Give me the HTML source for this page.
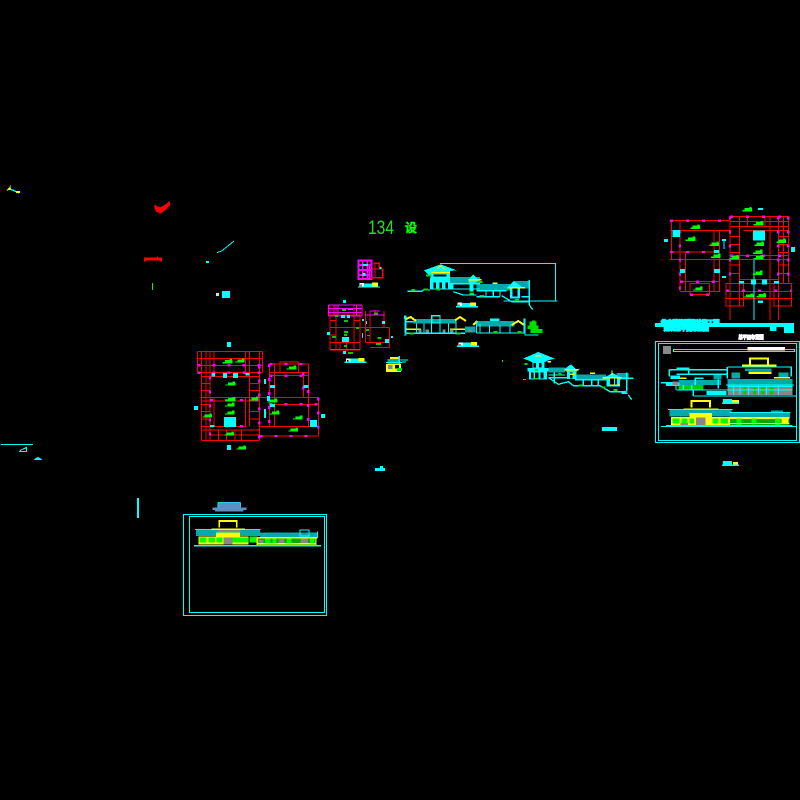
<!DOCTYPE html>
<html><head><meta charset="utf-8"><title>CAD</title>
<style>html,body{margin:0;padding:0;background:#000;width:800px;height:800px;overflow:hidden}svg{display:block}</style></head>
<body>
<svg width="800" height="800" viewBox="0 0 800 800" xmlns="http://www.w3.org/2000/svg" shape-rendering="crispEdges">
<rect width="800" height="800" fill="#000"/>
<defs>
<g id="b"><rect x="0" y="2" width="22" height="10" fill="#0f0"/><rect x="-7" y="8" width="9" height="4" fill="#0f0"/><rect x="14" y="-1" width="7" height="4" fill="#0f0"/></g>
<g id="cap"><rect x="0" y="1" width="14" height="10" fill="#fff"/><rect x="3" y="6" width="4" height="5" fill="#000"/><rect x="14" y="2" width="24" height="12" fill="#0ff"/><rect x="38" y="0" width="18" height="12" fill="#ff0"/><rect x="-4" y="11" width="66" height="4" fill="#0ff"/></g>
</defs>

<!-- stray items top left : zoom 8 -->
<g transform="translate(0 175) scale(.3333)">
<path d="M18 47L28 38L31 30L33 44Z" fill="#ff0"/><path d="M30 42L58 54" stroke="#0ff" stroke-width="4" fill="none"/><rect x="48" y="48" width="12" height="6" fill="#ff0"/>
<path d="M465 87L472 94L482 97L497 88L509 78L511 90L498 104L482 116L468 110L463 98Z" fill="#f00"/>
<rect x="432" y="248" width="54" height="9" fill="#f00"/><rect x="432" y="255" width="6" height="4" fill="#f00"/><rect x="480" y="255" width="6" height="4" fill="#f00"/><rect x="471" y="245" width="3" height="4" fill="#f00"/>
<rect x="456" y="324" width="3" height="21" fill="#0f0"/>
<path d="M651 233L665 228L685 212L702 198" stroke="#0ff" stroke-width="3" fill="none"/>
<rect x="618" y="258" width="9" height="6" fill="#0ff"/>
<rect x="648" y="354" width="9" height="9" fill="#ddd"/><rect x="666" y="348" width="24" height="21" fill="#0ff"/>
</g>

<!-- bottom left strays : zoom 10 -->
<g transform="translate(0 430) scale(.3333)" fill="#0ff">
<rect x="3" y="42" width="96" height="3"/>
<path d="M57 66L60 60L72 54L78 51L81 51L81 66Z M63 63H78V56L66 60Z" fill-rule="evenodd"/>
<path d="M102 90L108 84L114 81L120 84L126 90Z"/>
<rect x="411" y="204" width="6" height="60"/>
</g>
<rect x="375" y="468" width="10" height="3" fill="#0ff"/><rect x="380" y="466" width="3" height="3" fill="#0ff"/>
<rect x="602" y="427" width="15" height="4" fill="#0ff"/>

<!-- big plan : zoom 1 -->
<g transform="translate(190 340) scale(.3333)">
<path fill="none" stroke="#f00" stroke-width="3.300" d="M22 34H218M22 55H218M22 76H218M22 98H218M34 110H208M34 130H60M34 151H60M178 130H208M178 151H208M34 172H385M34 183H208M34 193H60M238 193H385M34 215H60M178 215H208M34 237H60M178 237H208M34 259H170M34 270H208M60 285H208M34 301H208M205 259H385M208 288H385M22 34V98M34 34V301M48 34V301M60 34V301M72 34V98M72 172V259M166 34V98M166 172V259M178 34V259M208 34V301M218 34V98M85 270V301M110 270V301M135 270V301M155 270V301M238 72V258M253 72V258M270 65V98M325 65V98M340 98V172M355 72V258M385 172V288M238 72H355M270 66H325M238 98H355M238 107H355"/>
<path fill="none" stroke="#f0f" stroke-width="7" stroke-dasharray="9 36" d="M22 76H218M22 98H218M60 181H208M238 72H355M238 107H355M60 259H170M208 288H385M238 193H385"/>
<path fill="none" stroke="#f0f" stroke-width="7" stroke-dasharray="9 33" d="M60 110V300M208 76V300M238 72V258M340 98V172M355 150V258M385 172V288"/>
<g fill="#0ff"><rect x="65" y="99" width="10" height="10"/><rect x="99" y="99" width="12" height="15"/><rect x="129" y="99" width="15" height="15"/><rect x="166" y="99" width="12" height="8"/><rect x="102" y="231" width="36" height="30"/><rect x="240" y="135" width="15" height="9"/><rect x="340" y="135" width="16" height="9"/><rect x="360" y="240" width="21" height="21"/><rect x="222" y="117" width="6" height="15"/><rect x="231" y="168" width="9" height="15"/><rect x="222" y="207" width="6" height="27"/><rect x="240" y="192" width="15" height="9"/><rect x="111" y="6" width="12" height="15"/><rect x="12" y="198" width="12" height="12"/><rect x="393" y="222" width="12" height="12"/><rect x="111" y="315" width="12" height="15"/><rect x="60" y="255" width="14" height="6"/></g>
<use href="#b" x="105" y="58"/><use href="#b" x="142" y="56"/><use href="#b" x="297" y="77"/><use href="#b" x="114" y="125"/><use href="#b" x="184" y="170"/><use href="#b" x="114" y="172"/><use href="#b" x="112" y="188"/><use href="#b" x="240" y="176"/><use href="#b" x="44" y="221"/><use href="#b" x="112" y="212"/><use href="#b" x="246" y="212"/><use href="#b" x="316" y="227"/><use href="#b" x="302" y="263"/><use href="#b" x="110" y="275"/><use href="#b" x="146" y="317"/>
</g>

<!-- right top plan : zoom 2 -->
<g transform="translate(650 200) scale(.3333)">
<path fill="none" stroke="#f00" stroke-width="3.300" d="M60 62H240M60 91H240M280 91H415M60 156H195M60 178H415M240 50H415M240 65H415M240 80H415M240 110H270M240 133H270M240 157H270M240 167H415M385 110H415M385 133H415M385 157H415M240 195H270M385 195H415M240 220H270M385 220H415M268 238H385M228 250H425M90 274H210M228 274H425M228 295H425M228 318H280M372 318H425M90 245H210M120 250H180M120 283H180M64 62V178M90 62V275M106 155V275M192 91V275M208 91V275M120 250V285M178 250V285M240 50V360M268 50V320M292 50V80M345 50V80M360 50V360M385 50V360M400 50V250M415 50V250M228 250V320M280 250V320M372 250V320M425 250V320"/>
<path fill="none" stroke="#f0f" stroke-width="7" stroke-dasharray="9 39" d="M60 62H240M60 156H195M240 50H415M240 167H415M228 272H425M90 245H210M120 284H180"/>
<path fill="none" stroke="#f0f" stroke-width="7" stroke-dasharray="9 33" d="M90 91V275M240 50V250M385 50V250M415 50V250"/>
<g fill="#0ff"><rect x="68" y="90" width="22" height="21"/><rect x="309" y="92" width="36" height="30"/><rect x="90" y="207" width="15" height="12"/><rect x="192" y="207" width="18" height="12"/><rect x="192" y="150" width="15" height="9"/><rect x="303" y="238" width="15" height="15"/><rect x="336" y="238" width="15" height="15"/><rect x="267" y="243" width="15" height="8"/><rect x="372" y="243" width="15" height="8"/><rect x="324" y="301" width="15" height="8"/><rect x="42" y="117" width="12" height="9"/><rect x="423" y="141" width="12" height="15"/><rect x="216" y="117" width="12" height="6"/><rect x="221" y="123" width="3" height="24"/><rect x="216" y="228" width="12" height="6"/><rect x="324" y="24" width="15" height="6"/><rect x="311" y="180" width="3" height="180"/></g>
<use href="#b" x="284" y="22"/><use href="#b" x="128" y="75"/><use href="#b" x="318" y="64"/><use href="#b" x="114" y="111"/><use href="#b" x="185" y="126"/><use href="#b" x="320" y="126"/><use href="#b" x="386" y="117"/><use href="#b" x="316" y="150"/><use href="#b" x="190" y="162"/><use href="#b" x="245" y="166"/><use href="#b" x="318" y="166"/><use href="#b" x="316" y="213"/><use href="#b" x="136" y="260"/><use href="#b" x="288" y="281"/><use href="#b" x="326" y="280"/>
<!-- title band -->
<rect x="15" y="369" width="417" height="12" fill="#0ff"/>
<rect x="405" y="369" width="27" height="30" fill="#0ff"/><rect x="402" y="372" width="3" height="27" fill="#0ff"/>
<rect x="360" y="381" width="20" height="12" fill="#0ff"/>
<text x="33" y="372" font-family="'Liberation Sans','Noto Sans CJK SC',sans-serif" font-size="16" font-weight="bold" fill="#0ff" stroke="#0ff" stroke-width="4" textLength="175" lengthAdjust="spacingAndGlyphs" shape-rendering="auto">仿古建筑群设计施工图</text>
<text x="42" y="391" font-family="'Liberation Sans','Noto Sans CJK SC',sans-serif" font-size="15" font-weight="bold" fill="#0ff" stroke="#0ff" stroke-width="4" textLength="134" lengthAdjust="spacingAndGlyphs" shape-rendering="auto">建筑总平面布置图</text>
<text x="265" y="417" font-family="'Liberation Sans','Noto Sans CJK SC',sans-serif" font-size="15" font-weight="bold" fill="#fff" stroke="#fff" stroke-width="3" textLength="76" lengthAdjust="spacingAndGlyphs" shape-rendering="auto">总平面布置图</text>
</g>

<!-- right panel : zoom 3 -->
<g transform="translate(650 335) scale(.3333)">
<rect x="16.500" y="20" width="432" height="302" fill="none" stroke="#0ff" stroke-width="3"/>
<rect x="25.500" y="26" width="414" height="290" fill="none" stroke="#0ff" stroke-width="3"/>
<rect x="39" y="33" width="24" height="24" fill="#888"/>
<rect x="70" y="43" width="364" height="6" fill="none" stroke="#0ff" stroke-width="3"/>
<rect x="292" y="36" width="113" height="11" fill="#fff"/>
<!-- upper back elevation -->
<g fill="#0aa">
<rect x="232" y="132" width="196" height="18"/><rect x="85" y="135" width="128" height="15"/>
<rect x="285" y="100" width="80" height="6"/>
</g>
<rect x="232" y="150" width="195" height="30" fill="#888"/>
<g fill="#0c0"><rect x="280" y="150" width="8" height="28"/><rect x="310" y="150" width="8" height="28"/><rect x="335" y="150" width="8" height="28"/><rect x="360" y="150" width="10" height="28"/><rect x="85" y="150" width="75" height="15"/></g>
<path d="M232 155H427M232 165H427M250 150V180M270 150V180M295 150V180M325 150V180M350 150V180M385 150V180" stroke="#0ff" stroke-width="3" fill="none"/>
<g fill="none" stroke="#0ff" stroke-width="4"><path d="M232 96H424V125M232 96V130M58 104H232M58 104V125M80 100H116V118M80 118H232M33 143H70M130 183H438M80 165H232M130 165V183M160 130H136V150M228 150H432M205 128V160M78 150V165M170 172H230M100 150V165M125 150V165"/></g>
<rect x="48" y="143" width="40" height="10" fill="#0ff"/>
<rect x="62" y="122" width="28" height="10" fill="#0ff"/><rect x="68" y="140" width="16" height="10" fill="#888"/>
<rect x="385" y="112" width="30" height="18" fill="#0aa"/><rect x="245" y="112" width="25" height="18" fill="#0aa"/><rect x="190" y="120" width="24" height="14" fill="#0aa"/>
<path d="M300 90V71H354V90M276 92H380" fill="none" stroke="#ff0" stroke-width="6"/>
<rect x="295" y="110" width="70" height="7" fill="#ff0"/>
<rect x="285" y="100" width="80" height="8" fill="#0aa"/>
<path d="M88 130H110M372 128H420" stroke="#ff0" stroke-width="4"/>
<rect x="170" y="168" width="60" height="12" fill="#0ff"/>
<rect x="219" y="192" width="27" height="14" fill="#0ff"/><rect x="246" y="195" width="21" height="8" fill="#ff0"/><rect x="216" y="203" width="51" height="4" fill="#0ff"/>
<!-- lower elevation -->
<g fill="#0aa"><rect x="58" y="224" width="186" height="21"/><rect x="240" y="232" width="180" height="16"/><rect x="363" y="226" width="36" height="8"/></g>
<path d="M54 224H248M238 232H422M100 222H205" stroke="#0ff" stroke-width="3"/>
<rect x="63" y="246" width="355" height="24" fill="#ff0"/>
<g fill="#0f0"><rect x="68" y="250" width="20" height="16"/><rect x="95" y="250" width="18" height="16"/><rect x="118" y="250" width="14" height="16"/><rect x="188" y="250" width="18" height="16"/><rect x="212" y="250" width="22" height="16"/></g>
<rect x="138" y="248" width="28" height="22" fill="#888"/>
<rect x="92" y="264" width="22" height="6" fill="#888"/>
<rect x="240" y="252" width="178" height="18" fill="#0a0"/>
<g fill="#0f0"><rect x="260" y="250" width="14" height="20"/><rect x="305" y="250" width="14" height="18"/><rect x="375" y="250" width="16" height="20"/></g>
<g fill="#ff0"><rect x="395" y="250" width="20" height="14"/><rect x="240" y="264" width="178" height="3"/></g>
<path d="M124 218V198H180V218" fill="none" stroke="#ff0" stroke-width="6"/>
<rect x="112" y="226" width="80" height="6" fill="#0aa"/>
<path d="M100 222H205" stroke="#ff0" stroke-width="4"/>
<rect x="118" y="234" width="68" height="12" fill="#ff0"/>
<rect x="33" y="273" width="405" height="3" fill="#0ff"/>
<rect x="48" y="270" width="380" height="3" fill="#0ff"/>
<!-- caption below -->
<rect x="219" y="378" width="27" height="12" fill="#0ff"/><rect x="249" y="381" width="15" height="9" fill="#ff0"/><rect x="216" y="388" width="51" height="5" fill="#0ff"/>
</g>

<!-- bottom left panel : zoom 4 -->
<g transform="translate(180 495) scale(.3333)">
<path d="M114 22H182V38H200V45H190V50H105V45H97V38H114Z" fill="#5c8fc4"/>
<path d="M114 22H182M114 22V38M182 22V38" stroke="#0ff" stroke-width="2" fill="none"/>
<rect x="11" y="59" width="428" height="302" fill="none" stroke="#0ff" stroke-width="3"/>
<rect x="28.500" y="65" width="405" height="288" fill="none" stroke="#0ff" stroke-width="3"/>
<g fill="#0aa"><rect x="48" y="103" width="192" height="20"/><rect x="240" y="112" width="172" height="16"/></g>
<path d="M45 103H242M412 110V128" stroke="#0ff" stroke-width="3"/>
<rect x="55" y="124" width="150" height="25" fill="#ff0"/>
<g fill="#0f0"><rect x="58" y="127" width="22" height="16"/><rect x="85" y="127" width="20" height="16"/><rect x="110" y="127" width="18" height="16"/><rect x="158" y="127" width="46" height="16"/><rect x="208" y="125" width="24" height="18"/></g>
<rect x="130" y="128" width="28" height="20" fill="#888"/>
<path d="M118 98V78H170V98M95 103H195" fill="none" stroke="#ff0" stroke-width="5"/>
<rect x="112" y="105" width="70" height="6" fill="#888"/><rect x="108" y="112" width="72" height="12" fill="#ff0"/>
<rect x="232" y="130" width="178" height="20" fill="#0a0"/>
<g fill="#888"><rect x="235" y="135" width="16" height="13"/><rect x="296" y="132" width="18" height="14"/><rect x="362" y="130" width="22" height="18"/></g>
<g fill="#0f0"><rect x="255" y="130" width="16" height="18"/><rect x="278" y="130" width="12" height="18"/><rect x="320" y="130" width="14" height="16"/><rect x="390" y="130" width="14" height="16"/></g>
<path d="M232 128H412M232 128V150M408 128V150M232 146H410" stroke="#ff0" stroke-width="4" fill="none"/>
<rect x="360" y="105" width="27" height="18" fill="none" stroke="#0ff" stroke-width="4"/>
<rect x="42" y="150" width="381" height="4" fill="#0ff"/>
</g>

<!-- centre elevations : zoom 5 -->
<g transform="translate(400 255) scale(.3333)">
<path d="M120 25H467V138M310 138H473" fill="none" stroke="#0ff" stroke-width="3"/>
<path d="M122 28L170 46L150 48V68H160V104H90V68H95L72 46Z" fill="#0ff"/>
<g fill="#000"><rect x="100" y="82" width="8" height="18"/><rect x="118" y="82" width="8" height="18"/><rect x="136" y="82" width="8" height="18"/><rect x="100" y="58" width="40" height="6"/></g>
<path d="M110 42L122 32L134 42M95 52H150" stroke="#ff0" stroke-width="3" fill="none"/>
<rect x="150" y="66" width="90" height="20" fill="#0aa"/>
<rect x="230" y="87" width="100" height="20" fill="#0aa"/><rect x="345" y="78" width="42" height="22" fill="#0aa"/>
<path d="M22 109H65L70 105H90M150 102H240M160 110L190 120H230M230 107H320M230 125H300M258 107V125M280 107V125M300 107V125M388 75V150M365 125H388M365 140H388M388 150L398 164M305 122L335 140H365M150 86H240" stroke="#0ff" stroke-width="4" fill="none"/>
<path d="M205 75L220 58L236 75L220 90V110H208V90Z" fill="#0ff"/>
<path d="M320 100L342 78L370 100H360V130H330V100Z" fill="#0ff"/><rect x="338" y="100" width="14" height="24" fill="#000"/>
<path d="M205 74H245M325 98H375M278 85H292" stroke="#ff0" stroke-width="4" fill="none"/>
<g fill="#0d0"><rect x="78" y="58" width="16" height="6"/><rect x="35" y="102" width="10" height="6"/><rect x="70" y="100" width="14" height="6"/><rect x="110" y="100" width="10" height="6"/><rect x="238" y="78" width="10" height="6"/><rect x="208" y="112" width="14" height="6"/><rect x="238" y="120" width="14" height="5"/><rect x="345" y="132" width="12" height="6"/></g>
<use href="#cap" x="172" y="142"/>
<!-- lower row -->
<path d="M12 240H18V182M15 182V235M18 200H145M18 235H195M230 234H375M375 190V240H415" stroke="#0ff" stroke-width="4" fill="none"/>
<rect x="12" y="182" width="8" height="10" fill="#0ff"/>
<rect x="40" y="192" width="130" height="13" fill="#0aa"/>
<rect x="228" y="198" width="115" height="16" fill="#0aa"/>
<rect x="95" y="182" width="25" height="22" fill="none" stroke="#0ff" stroke-width="4"/>
<path d="M18 192L32 186L48 198M165 196L180 186L198 198M220 210L232 198M335 210L355 198L372 210" stroke="#ff0" stroke-width="6" fill="none"/>
<rect x="18" y="220" width="45" height="5" fill="#ff0"/><rect x="150" y="220" width="50" height="5" fill="#ff0"/>
<rect x="195" y="214" width="32" height="18" fill="#0aa"/>
<g fill="none" stroke="#0ff" stroke-width="3"><path d="M50 205V235M72 205V235M95 205V235M120 205V235M145 205V235M168 200V238M240 205V234M268 212V234M300 212V234M330 212V234M230 198V234M372 190V234"/></g>
<g fill="#888"><rect x="55" y="224" width="10" height="9"/><rect x="77" y="224" width="10" height="9"/><rect x="127" y="224" width="10" height="9"/><rect x="150" y="224" width="10" height="9"/><rect x="205" y="224" width="10" height="9"/></g>
<rect x="270" y="190" width="28" height="8" fill="#0ff"/>
<g fill="#0d0"><rect x="28" y="232" width="14" height="6"/><rect x="170" y="232" width="12" height="6"/><rect x="280" y="228" width="12" height="6"/><rect x="352" y="228" width="12" height="6"/><rect x="388" y="200" width="22" height="12"/><rect x="382" y="212" width="34" height="10"/><rect x="392" y="222" width="36" height="12"/><rect x="396" y="196" width="10" height="36"/></g>
<use href="#cap" x="175" y="261"/>
</g>

<!-- small plans : zoom 6 -->
<g transform="translate(320 255) scale(.3333)">
<rect x="115" y="16" width="40" height="56" fill="none" stroke="#f0f" stroke-width="6"/>
<path d="M115 30H155M115 45H155M115 60H145M128 16V72M142 16V72" stroke="#f0f" stroke-width="5" fill="none"/>
<path d="M155 42H188V68H148M160 25H178V42M165 25V68" stroke="#f00" stroke-width="4" fill="none"/>
<path d="M148 30V72" stroke="#f0f" stroke-width="4"/>
<rect x="128" y="27" width="16" height="6" fill="#0ff"/><rect x="128" y="54" width="9" height="9" fill="#0ff"/><rect x="178" y="36" width="6" height="6" fill="#0ff"/>
<use href="#cap" x="118" y="83"/>
<!-- mid plan -->
<path fill="none" stroke="#f00" stroke-width="3.300" d="M30 150V285M48 150V285M102 150V285M120 150V285M30 180H120M30 196H48M102 196H120M30 218H208M30 240H48M30 262H120M30 285H120M136 168V262M150 168V262M192 168V218M208 218V278M136 180H192M136 262H208M150 278H208M60 262V290M80 262V290M165 165V182"/>
<path fill="none" stroke="#f0f" stroke-width="3.300" d="M25 150H126M25 160H126M25 172H126M25 183H126M25 150V183M42 150V183M54 150V183M110 150V183M126 150V183M30 283H120M150 168H180M136 180H195"/>
<g fill="#0ff"><rect x="69" y="135" width="9" height="9"/><rect x="21" y="231" width="9" height="9"/><rect x="63" y="180" width="12" height="9"/><rect x="81" y="180" width="9" height="9"/><rect x="66" y="246" width="21" height="15"/><rect x="186" y="198" width="9" height="9"/><rect x="195" y="252" width="12" height="12"/><rect x="126" y="234" width="3" height="15"/><rect x="69" y="288" width="9" height="9"/><rect x="126" y="192" width="6" height="6"/><rect x="138" y="198" width="3" height="9"/><rect x="213" y="243" width="6" height="6"/></g>
<g fill="#0c0"><rect x="66" y="162" width="12" height="6"/><rect x="84" y="162" width="15" height="3"/><rect x="45" y="180" width="9" height="6"/><rect x="72" y="195" width="12" height="6"/><rect x="72" y="228" width="12" height="6"/><rect x="72" y="237" width="9" height="6"/><rect x="108" y="216" width="9" height="6"/><rect x="36" y="243" width="12" height="6"/><rect x="162" y="172" width="12" height="6"/><rect x="138" y="222" width="9" height="6"/><rect x="141" y="240" width="9" height="3"/><rect x="172" y="246" width="12" height="6"/><rect x="168" y="264" width="15" height="6"/><rect x="84" y="291" width="15" height="6"/><rect x="72" y="270" width="9" height="6"/></g>
<use href="#cap" x="78" y="309"/>
</g>

<!-- tiny elevation : zoom 11 -->
<g transform="translate(370 350) scale(.3333)">
<rect x="60" y="21" width="28" height="6" fill="#ff0"/>
<rect x="52" y="27" width="40" height="15" fill="#0aa"/>
<rect x="48" y="42" width="45" height="24" fill="#ff0"/>
<rect x="54" y="45" width="14" height="12" fill="#888"/><rect x="75" y="45" width="12" height="10" fill="#000"/>
<rect x="48" y="36" width="48" height="3" fill="#0ff"/>
<path d="M88 18V42M93 30H114M96 36H108" stroke="#0ff" stroke-width="4"/>
<rect x="81" y="54" width="15" height="9" fill="#0d0"/>
<path d="M15 361H45M24 358H36" stroke="#0ff" stroke-width="3"/><rect x="30" y="351" width="3" height="9" fill="#0ff"/>
</g>

<!-- right elevation : zoom 7 -->
<g transform="translate(515 345) scale(.3333)">
<path d="M70 21L120 41L100 46L88 52V69H105V80H96V104H42V80H38V69H52V52L40 46L24 41Z" fill="#0ff"/>
<g fill="#000"><rect x="48" y="83" width="8" height="18"/><rect x="60" y="83" width="10" height="18"/><rect x="76" y="83" width="10" height="18"/><rect x="55" y="54" width="8" height="14"/><rect x="72" y="54" width="8" height="14"/></g>
<rect x="62" y="30" width="16" height="4" fill="#ff0"/><rect x="98" y="48" width="10" height="5" fill="#ff0"/>
<rect x="100" y="67" width="50" height="16" fill="#0aa"/>
<rect x="183" y="88" width="90" height="16" fill="#0aa"/><rect x="305" y="84" width="35" height="20" fill="#0aa"/>
<path d="M100 98L130 118L160 110L175 122H255M100 98H182M118 83V115M180 104H275M205 104V124M230 104V124M250 104V124M255 122L285 140H335M335 82V140M340 150L350 164M320 145H338M300 100H355M100 90H150" stroke="#0ff" stroke-width="4" fill="none"/>
<path d="M145 74L168 58L185 74L197 70L185 80V102H156V80Z" fill="#0ff"/>
<rect x="165" y="82" width="8" height="18" fill="#000"/>
<path d="M262 100L293 84L322 100L315 106V125H275V106Z" fill="#0ff"/>
<rect x="285" y="100" width="12" height="20" fill="#000"/><rect x="300" y="100" width="6" height="20" fill="#000"/>
<path d="M262 98H320M291 76V90M285 120H315M150 74H190M225 85H240M165 88H180" stroke="#ff0" stroke-width="4" fill="none"/>
<g fill="#0d0"><rect x="24" y="102" width="9" height="3"/><rect x="28" y="54" width="9" height="6"/><rect x="60" y="72" width="9" height="6"/><rect x="58" y="99" width="12" height="5"/><rect x="190" y="118" width="12" height="6"/><rect x="260" y="124" width="12" height="6"/><rect x="295" y="132" width="12" height="6"/><rect x="130" y="84" width="9" height="6"/></g>
<rect x="261" y="246" width="45" height="12" fill="#0ff"/>
</g>

<!-- stray dots -->
<rect x="502" y="360" width="1" height="2" fill="#0f0"/>
<rect x="531" y="329" width="8" height="2" fill="#0d0"/>

<!-- centre label -->
<text x="368" y="234" font-family="'Liberation Sans',sans-serif" font-size="19" fill="#2d2" textLength="26" lengthAdjust="spacingAndGlyphs" shape-rendering="auto">134</text>
<text x="405" y="232" font-family="'Liberation Sans','Noto Sans CJK SC',sans-serif" font-size="12" font-weight="bold" fill="#0f0" stroke="#0f0" stroke-width=".5" shape-rendering="auto">设</text>
</svg>
</body></html>
